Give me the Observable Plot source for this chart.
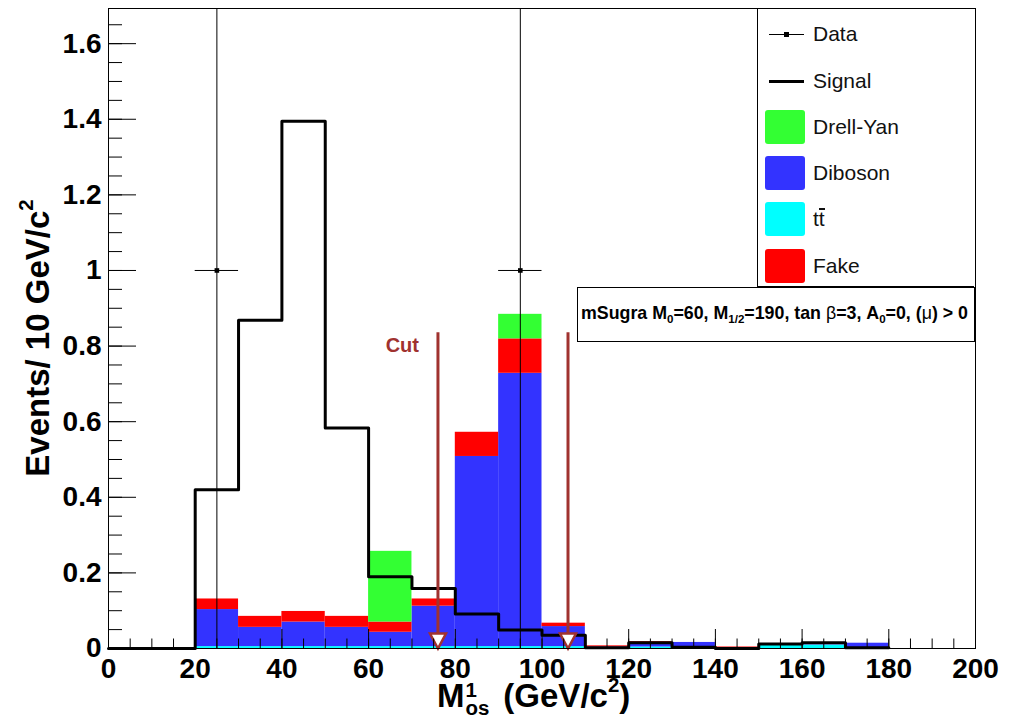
<!DOCTYPE html>
<html>
<head>
<meta charset="utf-8">
<script src="https://cdn.jsdelivr.net/npm/d3@7"></script>
<script src="https://cdn.jsdelivr.net/npm/@observablehq/plot@0.6"></script>
<style>
  html, body { margin: 0; padding: 0; background: #fff; }
  #wrap { position: relative; width: 1023px; height: 716px; font-family: "Liberation Sans", Arial, sans-serif; overflow: hidden; }
  #chart { position: absolute; left: 0; top: 0; }
  .ov { position: absolute; white-space: nowrap; }
  #legend { position: absolute; left: 757px; top: 8px; width: 217px; height: 279px; border: 1px solid #000; border-right: none; background: #fff; box-sizing: border-box; }
  .lrow { position: absolute; left: 0; height: 34px; width: 216px; }
  .lrow .sw { position: absolute; left: 7px; top: 0; width: 40px; height: 34px; border-radius: 3px; }
  .lrow .lab { position: absolute; left: 55px; top: 50%; transform: translateY(-50%); font-size: 21px; color: #111; }
  #box { position: absolute; left: 577px; top: 287px; width: 398px; height: 55px; border: 1px solid #000; background: #fff; box-sizing: border-box; }
  #box span.t { position: absolute; left: 3px; top: 50%; transform: translateY(-58%); font-weight: bold; font-size: 17.8px; white-space: nowrap; }
  #box sub { font-size: 0.65em; vertical-align: -0.35em; line-height: 0; }
  .axlab { font-weight: bold; font-size: 33px; line-height: 1; color: #000; }
  .axlab sup { font-size: 0.62em; vertical-align: 0.75em; line-height: 0; }
  .ss { display: inline-block; position: relative; width: 0.9em; height: 0.5em; }
  .ss span { position: absolute; left: 0.05em; font-size: 0.62em; line-height: 1; }
  .ss .up { top: -0.5em; }
  .ss .dn { top: 0.35em; }
</style>
</head>
<body>
<div id="wrap">
  <div id="chart"></div>
</div>
<script>
// ---- data ----
const binLow = [0,10,20,30,40,50,60,70,80,90,100,110,120,130,140,150,160,170,180,190];
const ttbar   = [0,0,0.005,0.005,0.005,0.005,0.005,0.005,0.005,0.005,0.005,0.001,0.004,0.002,0,0.009,0.009,0,0,0];
const diboson = [0,0,0.098,0.051,0.065,0.051,0.038,0.107,0.503,0.723,0.053,0.003,0.008,0.014,0,0.001,0.001,0.014,0,0];
const fake    = [0,0,0.028,0.029,0.028,0.029,0.027,0.019,0.064,0.091,0.009,0.003,0.006,0,0.004,0,0,0,0,0];
const drellYan= [0,0,0,0,0,0,0.187,0,0,0.065,0,0,0,0,0,0,0,0,0,0];
const signalLow = [0,10,20,30,40,50,60,70,80,90,100,110,120,130,140,150,160,170];
const signal    = [0,0,0.42,0.868,1.395,0.583,0.19,0.159,0.091,0.049,0.035,0.002,0.015,0.003,0,0.012,0.015,0.002];
const dataX = [25, 95];
const dataY = [1, 1];
const dataHalfWidth = [5, 5];
const cutX = [76, 106];
const cutTop = [0.835, 0.835];
const xTicks = [0,20,40,60,80,100,120,140,160,180,200];
const xMinor = d3.range(0, 201, 5);
const yTicks = [0,0.2,0.4,0.6,0.8,1,1.2,1.4,1.6];
const yMinor = d3.range(0, 1.69, 0.05);
const procs = ["ttbar", "Diboson", "Fake", "Drell-Yan"];
const procColors = ["#00ffff", "#3333ff", "#ff0000", "#33ff33"];
const procValues = {"ttbar": ttbar, "Diboson": diboson, "Fake": fake, "Drell-Yan": drellYan};

// ---- tables ----
const bg = [];
procs.forEach(p => binLow.forEach((lo, i) => bg.push({x1: lo, x2: lo + 10, value: procValues[p][i], proc: p})));
const sig = signalLow.map((lo, i) => ({x: lo, y: signal[i]}));
sig.push({x: signalLow[signalLow.length - 1] + 10, y: signal[signal.length - 1]});
const pts = dataX.map((x, i) => ({x, y: dataY[i], w: dataHalfWidth[i]}));
const cuts = cutX.map((x, i) => ({x, top: cutTop[i]}));

const W = 1023, H = 716, ML = 108, MR = 48, MT = 8, MB = 68;
const PW = W - ML - MR, PH = H - MT - MB;
const cutColor = "#a0322f";
const downTri = { draw(ctx) { ctx.moveTo(0, 0); ctx.lineTo(-8, -15); ctx.lineTo(8, -15); ctx.closePath(); } };

const chart = Plot.plot({
  width: W, height: H,
  marginLeft: ML, marginRight: MR, marginTop: MT, marginBottom: MB,
  style: {fontFamily: "'Liberation Sans', Arial, sans-serif", background: "#fff", color: "#000"},
  x: {domain: [0, 200]},
  y: {domain: [0, 1.693]},
  color: {domain: procs, range: procColors},
  marks: [
    Plot.rectY(bg, {x1: "x1", x2: "x2", y: "value", fill: "proc", order: procs}),
    Plot.ruleX(pts, {x: "x", y1: 0, y2: 1.693, stroke: "#000", strokeWidth: 1}),
    Plot.ruleY(pts, {y: "y", x1: d => d.x - d.w, x2: d => d.x + d.w, stroke: "#000", strokeWidth: 1}),
    Plot.dot(pts, {x: "x", y: "y", symbol: "square", r: 2.6, fill: "#000", stroke: null}),
    Plot.line(sig, {x: "x", y: "y", curve: "step-after", stroke: "#000", strokeWidth: 3}),
    Plot.ruleX(cuts, {x: "x", y1: 0, y2: "top", stroke: cutColor, strokeWidth: 3}),
    Plot.dot(cuts, {x: "x", y: 0, symbol: downTri, r: 5, fill: "#fff", stroke: cutColor, strokeWidth: 2.5}),
    Plot.text(cuts.slice(0, 1), {x: "x", y: "top", text: () => "Cut", textAnchor: "end", dx: -19, dy: 13, fill: cutColor, fontSize: 20, fontWeight: "bold"}),
    Plot.tickX(xMinor, {x: d => d, insetTop: PH - 9.5, stroke: "#000"}),
    Plot.tickX(xTicks, {x: d => d, insetTop: PH - 19, stroke: "#000"}),
    Plot.tickY(yMinor, {y: d => d, insetRight: PW - 14, stroke: "#000"}),
    Plot.tickY(yTicks, {y: d => d, insetRight: PW - 28, stroke: "#000"}),
    Plot.axisX({ticks: xTicks, tickSize: 0, tickPadding: 10, fontSize: 28, fontWeight: "bold", label: null}),
    Plot.axisY({ticks: yTicks, tickSize: 0, tickPadding: 7, fontSize: 28, fontWeight: "bold", label: null, tickFormat: d => String(d)}),
    Plot.frame({stroke: "#000", strokeWidth: 1})
  ]
});
document.getElementById("chart").appendChild(chart);

// ---- overlays: legend, info box, axis titles ----
const wrap = document.getElementById("wrap");
const legend = document.createElement("div");
legend.id = "legend";
const rows = [
  {label: "Data", kind: "data", cy: 33},
  {label: "Signal", kind: "line", cy: 80},
  {label: "Drell-Yan", kind: "fill", color: procColors[3], cy: 126},
  {label: "Diboson", kind: "fill", color: procColors[1], cy: 172},
  {label: "t<span style=\"display:inline-block;border-top:2px solid #111;line-height:0.85;padding-top:0px\">t</span>", kind: "fill", color: procColors[0], cy: 218},
  {label: "Fake", kind: "fill", color: procColors[2], cy: 265}
];
rows.forEach(r => {
  const row = document.createElement("div");
  row.className = "lrow";
  row.style.top = (r.cy - 8 - 17) + "px";
  let sym = "";
  if (r.kind === "fill") sym = `<div class="sw" style="background:${r.color}"></div>`;
  else if (r.kind === "line") sym = `<div style="position:absolute;left:11px;top:15.5px;width:35px;height:3px;background:#000"></div>`;
  else sym = `<div style="position:absolute;left:11px;top:16.5px;width:35px;height:1px;background:#000"></div><div style="position:absolute;left:26px;top:14.5px;width:5px;height:5px;background:#000"></div>`;
  row.innerHTML = sym + `<div class="lab">${r.label}</div>`;
  legend.appendChild(row);
});
wrap.appendChild(legend);

const box = document.createElement("div");
box.id = "box";
box.innerHTML = `<span class="t">mSugra M<sub>0</sub>=60, M<sub>1/2</sub>=190, tan <span style="font-weight:normal">β</span>=3, A<sub>0</sub>=0, (<span style="font-weight:normal">μ</span>) &gt; 0</span>`;
wrap.appendChild(box);

const xl = document.createElement("div");
xl.className = "ov axlab";
xl.style.left = "437px";
xl.style.top = "679px";
xl.innerHTML = `M<span class="ss"><span class="up">1</span><span class="dn">os</span></span> (GeV/c<sup>2</sup>)`;
wrap.appendChild(xl);

const yl = document.createElement("div");
yl.className = "ov axlab";
yl.style.left = "37px";
yl.style.top = "338px";
yl.style.transform = "translate(-50%, -50%) rotate(-90deg)";
yl.innerHTML = `Events/ 10 GeV/c<sup>2</sup>`;
wrap.appendChild(yl);
</script>
</body>
</html>
